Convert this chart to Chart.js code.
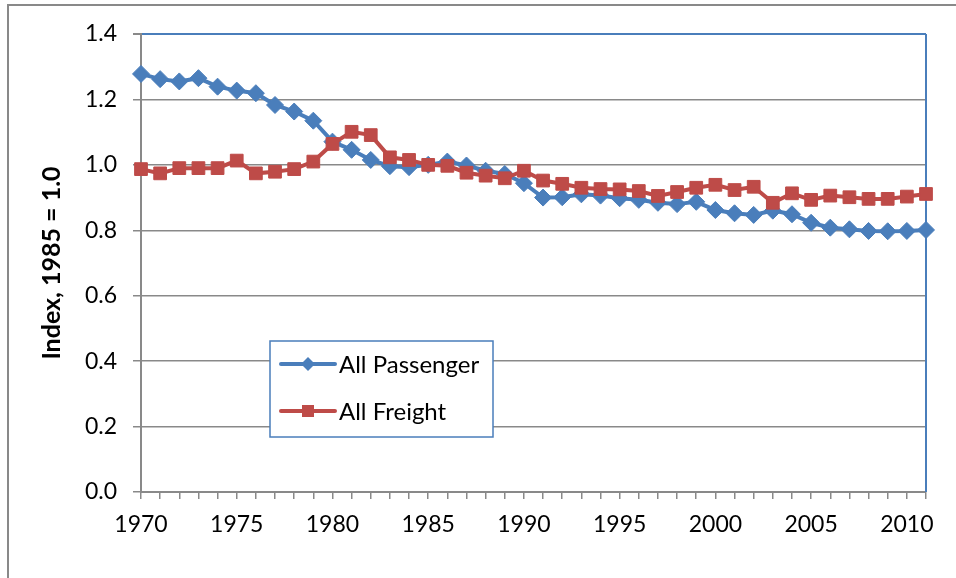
<!DOCTYPE html>
<html lang="en">
<head>
    <meta charset="UTF-8">
    <title>Index, 1985 = 1.0</title>
    <script src="https://cdn.jsdelivr.net/npm/chart.js"></script>
    <style>
        body {
            margin: 0;
            background-color: white;
            overflow: hidden;
        }
        .wrap {
            position: relative;
            width: 956px;
            height: 578px;
        }
        .frame {
            position: absolute;
            left: 7px;
            top: 4px;
            width: 1000px;
            height: 1000px;
            border-left: 2px solid #898989;
            border-top: 2px solid #898989;
        }
        canvas {
            position: absolute;
            left: 0;
            top: 0;
        }
    </style>
</head>
<body>
    <div class="wrap">
        <div class="frame"></div>
        <canvas id="indexChart" width="956" height="578"></canvas>
    </div>

    <script>
        // data
        const years = [
            '1970', '1971', '1972', '1973', '1974', '1975', '1976', '1977', '1978', '1979',
            '1980', '1981', '1982', '1983', '1984', '1985', '1986', '1987', '1988', '1989',
            '1990', '1991', '1992', '1993', '1994', '1995', '1996', '1997', '1998', '1999',
            '2000', '2001', '2002', '2003', '2004', '2005', '2006', '2007', '2008', '2009',
            '2010', '2011'
        ];
        const allPassenger = [
            1.278, 1.262, 1.255, 1.265, 1.239, 1.227, 1.219, 1.183, 1.163, 1.135,
            1.071, 1.046, 1.015, 0.996, 0.993, 1.000, 1.010, 0.998, 0.982, 0.972,
            0.944, 0.900, 0.901, 0.910, 0.906, 0.898, 0.893, 0.884, 0.880, 0.887,
            0.862, 0.852, 0.847, 0.860, 0.849, 0.823, 0.808, 0.803, 0.798, 0.797,
            0.798, 0.801
        ];
        const allFreight = [
            0.987, 0.974, 0.990, 0.990, 0.990, 1.013, 0.974, 0.979, 0.987, 1.010,
            1.064, 1.101, 1.091, 1.023, 1.015, 1.000, 0.997, 0.976, 0.967, 0.959,
            0.982, 0.952, 0.942, 0.930, 0.926, 0.925, 0.920, 0.905, 0.917, 0.930,
            0.939, 0.923, 0.933, 0.884, 0.913, 0.893, 0.906, 0.901, 0.896, 0.896,
            0.903, 0.911
        ];
        const seriesNames = ['All Passenger', 'All Freight'];
        const yTicks = [0, 0.2, 0.4, 0.6, 0.8, 1.0, 1.2, 1.4];

        const FONT = "Lato, 'Open Sans', sans-serif";
        const BLUE = '#4A7EBB';
        const RED = '#BE4B48';
        const GRID = '#898989';

        // plot border (right side) in blue like the Excel original
        const plotBorder = {
            id: 'plotBorder',
            beforeDatasetsDraw(chart) {
                const {ctx, chartArea: a} = chart;
                ctx.save();
                ctx.strokeStyle = BLUE;
                ctx.lineWidth = 2;
                ctx.beginPath();
                ctx.moveTo(a.right, a.top);
                ctx.lineTo(a.right, a.bottom);
                ctx.stroke();
                ctx.restore();
            }
        };

        // boxed legend sitting inside the plot area
        const boxLegend = {
            id: 'boxLegend',
            afterDraw(chart) {
                const {ctx, chartArea: a} = chart;
                const x = a.left + 129, y = a.top + 307, w = 223, h = 96;
                ctx.save();
                ctx.fillStyle = 'white';
                ctx.fillRect(x, y, w, h);
                ctx.strokeStyle = BLUE;
                ctx.lineWidth = 1.5;
                ctx.strokeRect(x, y, w, h);
                chart.data.datasets.forEach((ds, i) => {
                    const cy = y + 23 + i * 47;
                    ctx.strokeStyle = ds.borderColor;
                    ctx.lineWidth = 4;
                    ctx.lineCap = 'round';
                    ctx.beginPath();
                    ctx.moveTo(x + 11, cy);
                    ctx.lineTo(x + 65, cy);
                    ctx.stroke();
                    ctx.fillStyle = ds.backgroundColor;
                    ctx.beginPath();
                    if (ds.pointStyle === 'rectRot') {
                        ctx.moveTo(x + 38, cy - 7);
                        ctx.lineTo(x + 45, cy);
                        ctx.lineTo(x + 38, cy + 7);
                        ctx.lineTo(x + 31, cy);
                    } else {
                        ctx.rect(x + 32, cy - 6, 12, 12);
                    }
                    ctx.fill();
                    ctx.fillStyle = 'black';
                    ctx.font = '24px ' + FONT;
                    ctx.textBaseline = 'middle';
                    ctx.fillText(ds.label, x + 69, cy + 1);
                });
                ctx.restore();
            }
        };

        new Chart(document.getElementById('indexChart'), {
            type: 'line',
            data: {
                labels: years,
                datasets: [
                    {
                        label: seriesNames[0],
                        data: allPassenger,
                        borderColor: BLUE,
                        backgroundColor: BLUE,
                        borderWidth: 4,
                        pointStyle: 'rectRot',
                        pointRadius: 8.5,
                        pointBorderWidth: 1,
                        tension: 0,
                        order: 1
                    },
                    {
                        label: seriesNames[1],
                        data: allFreight,
                        borderColor: RED,
                        backgroundColor: RED,
                        borderWidth: 4,
                        pointStyle: 'rect',
                        pointRadius: 9,
                        pointBorderWidth: 1,
                        tension: 0,
                        order: 0
                    }
                ]
            },
            options: {
                responsive: false,
                animation: false,
                layout: {
                    padding: {top: 34, right: 30, left: 0, bottom: 0}
                },
                plugins: {
                    legend: {display: false},
                    tooltip: {enabled: false}
                },
                scales: {
                    x: {
                        offset: false,
                        afterFit: s => { s.height = 86; },
                        grid: {
                            drawOnChartArea: false,
                            color: GRID,
                            lineWidth: 1.5,
                            tickLength: 7
                        },
                        border: {color: GRID, width: 2},
                        ticks: {
                            autoSkip: false,
                            maxRotation: 0,
                            padding: 12,
                            color: 'black',
                            font: {family: FONT, size: 23},
                            callback: function (value) {
                                const lbl = this.getLabelForValue(value);
                                return Number(lbl) % 5 === 0 ? lbl : '';
                            }
                        }
                    },
                    y: {
                        min: yTicks[0],
                        max: yTicks[yTicks.length - 1],
                        afterFit: s => { s.width = 141; },
                        afterBuildTicks: s => { s.ticks = yTicks.map(v => ({value: v})); },
                        grid: {
                            color: ctx => (ctx.tick && ctx.tick.value === 1.4) ? BLUE : GRID,
                            tickColor: GRID,
                            lineWidth: ctx => (ctx.tick && ctx.tick.value === 1.4) ? 2 : 1.5,
                            tickLength: 8
                        },
                        border: {color: GRID, width: 2},
                        ticks: {
                            padding: 16,
                            color: 'black',
                            font: {family: FONT, size: 23},
                            callback: v => v.toFixed(1)
                        },
                        title: {
                            display: true,
                            text: 'Index, 1985 = 1.0',
                            color: 'black',
                            padding: {top: 37, bottom: 0},
                            font: {family: FONT, size: 25, weight: 'bold'}
                        }
                    }
                }
            },
            plugins: [plotBorder, boxLegend]
        });
    </script>
</body>
</html>
